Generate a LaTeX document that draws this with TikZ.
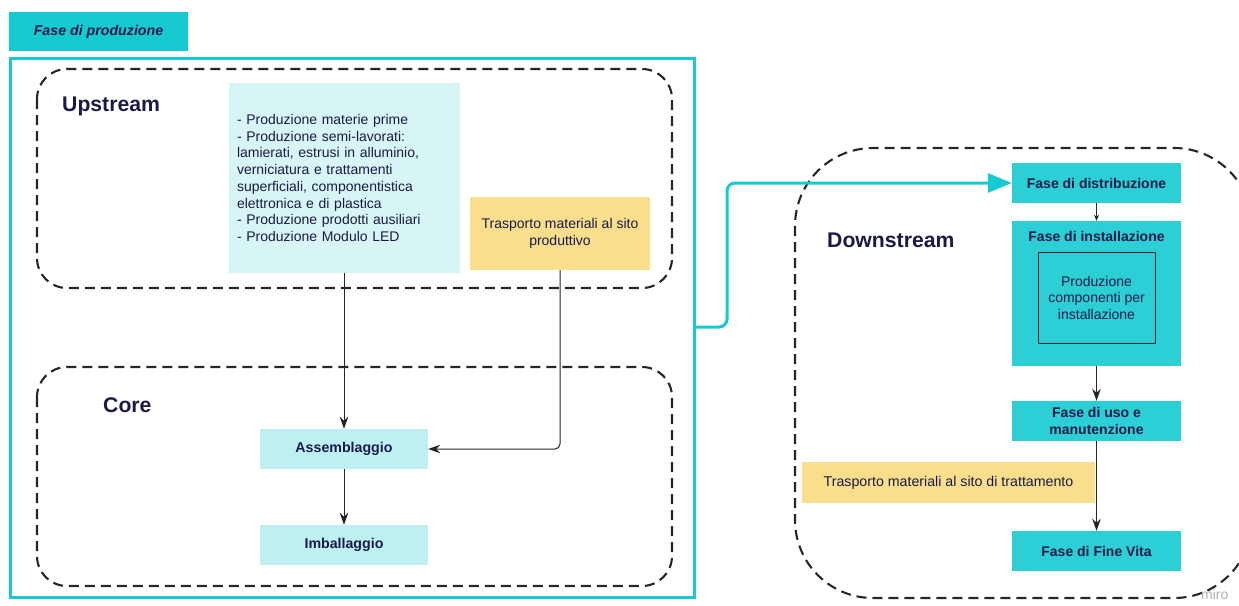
\documentclass[tikz,border=0pt]{standalone}
\usepackage{fontspec}
\setmainfont{Liberation Sans}
\usetikzlibrary{arrows.meta}
\definecolor{teal1}{HTML}{17C9D1}
\definecolor{teal2}{HTML}{2BCFD5}
\definecolor{lightblue}{HTML}{D8F5F6}
\definecolor{paleblue}{HTML}{BEF0F1}
\definecolor{yel}{HTML}{F9DE8C}
\definecolor{navy}{HTML}{1A1A48}
\tikzset{
  dashbox/.style={draw=black!85, line width=2.1pt, dash pattern=on 10pt off 6pt, rounded corners=30pt},
  box/.style={inner sep=0pt, text=navy, align=center},
  corebox/.style={box, fill=paleblue, minimum width=168pt, minimum height=40pt, font=\fontsize{14.2}{16}\selectfont\bfseries},
  dbox/.style={box, fill=teal2, minimum width=169pt, minimum height=40pt, font=\fontsize{14}{16.5}\selectfont\bfseries},
  title/.style={text=navy, font=\fontsize{21.2}{24}\selectfont\bfseries, inner sep=0pt},
  arr/.style={-{Stealth[length=12pt,width=8.5pt]}, line width=1pt, draw=black!85},
}
\begin{document}
\begin{tikzpicture}[x=1pt,y=-1pt]
\useasboundingbox (0,0) rectangle (1239,605);
% header
\node[box, fill=teal1, minimum width=179pt, minimum height=39pt, font=\fontsize{14.2}{16}\selectfont\bfseries\itshape] (hdr) at (98.5,31.5) {Fase di produzione};
% outer teal frame
\draw[teal1, line width=3pt] (10,58) rectangle (694,597);
\coordinate (frameR) at (694,327);
% upstream / core groups
\draw[dashbox] (37,69) rectangle (672,288);
\draw[dashbox] (37,367) rectangle (672,586);
\node[title, anchor=west] (up) at (62,106) {Upstream};
\node[title, anchor=west] (core) at (103,405) {Core};
% upstream boxes
\node[box, fill=lightblue, minimum width=231pt, minimum height=190pt, text width=215pt, inner xsep=8pt, align=left, font=\fontsize{14}{16.75}\selectfont] (prod) at (344.5,178) {- Produzione materie prime\\- Produzione semi-lavorati:\\lamierati, estrusi in alluminio,\\verniciatura e trattamenti\\superficiali, componentistica\\elettronica e di plastica\\- Produzione prodotti ausiliari\\- Produzione Modulo LED};
\node[box, fill=yel, minimum width=180pt, minimum height=73pt, font=\fontsize{14}{17}\selectfont] (trasp) at (560,233.5) {Trasporto materiali al sito\\produttivo};
% core boxes
\node[corebox] (ass) at (344,449) {Assemblaggio};
\node[corebox] (imb) at (344,545) {Imballaggio};
\draw[arr] (prod.south -| ass.north) -- (ass.north);
\draw[arr, rounded corners=5pt] (trasp.south) |- (ass.east);
\draw[arr] (ass) -- (imb);
% downstream
\draw[dashbox, rounded corners=78pt] (795,148) rectangle (1252,598);
\node[title, anchor=west] (down) at (827,240) {Downstream};
\node[dbox] (dist) at (1096.5,183) {Fase di distribuzione};
\node[box, fill=teal2, minimum width=169pt, minimum height=145pt] (inst) at (1096.5,293.5) {};
\node[box, font=\fontsize{14}{16}\selectfont\bfseries] (instt) at (1096.5,236) {Fase di installazione};
\node[box, draw=black!85, line width=0.9pt, minimum width=117pt, minimum height=91pt, font=\fontsize{14}{16.5}\selectfont] (comp) at (1096.5,297.5) {Produzione\\componenti per\\installazione};
\node[dbox] (uso) at (1096.5,421) {Fase di uso e\\manutenzione};
\node[box, fill=yel, minimum width=293pt, minimum height=41pt, font=\fontsize{14.2}{16}\selectfont] (trasp2) at (948.5,482.5) {Trasporto materiali al sito di trattamento};
\node[dbox] (fine) at (1096.5,551) {Fase di Fine Vita};
\draw[-{Stealth[length=6pt,width=5pt]}, line width=0.6pt, draw=black!85] (dist) -- (inst);
\draw[arr] (inst) -- (uso);
\draw[arr] (uso) -- (fine);
% teal connector
\draw[teal1, line width=3pt, rounded corners=8pt, -{Triangle[length=24pt,width=19pt]}] (frameR) -- (727,327) |- (dist.west);
% watermark
\node[anchor=west, text=black!30, font=\fontsize{14}{16}\selectfont, inner sep=0pt] (wm) at (1201,594) {miro};
\end{tikzpicture}
\end{document}
